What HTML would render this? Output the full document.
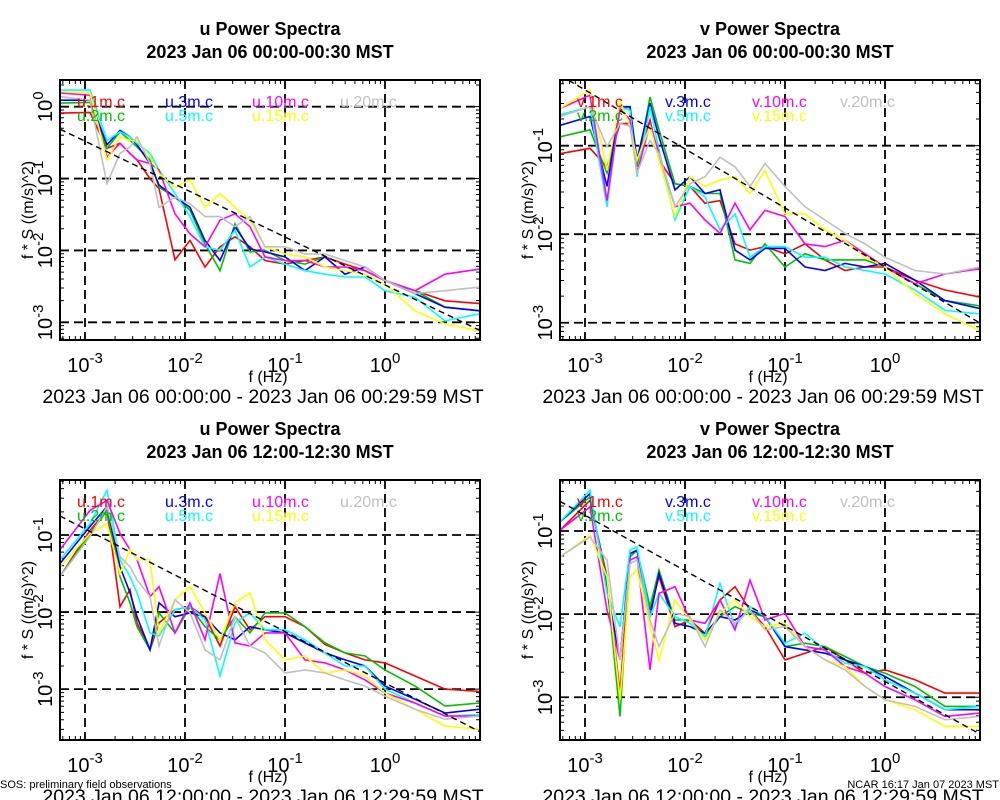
<!DOCTYPE html>
<html><head><meta charset="utf-8"><style>
html,body{margin:0;padding:0;background:#fff;}
svg{display:block;font-family:"Liberation Sans",sans-serif;}
</style></head><body>
<svg id="chart" width="1000" height="800" viewBox="0 0 1000 800"></svg>
<script>
// Shared frequency grid (log10 Hz)
const logFreq = [-3.25,-2.95,-2.78,-2.65,-2.55,-2.48,-2.35,-2.26,-2.1,-1.95,-1.8,-1.65,-1.5,-1.35,-1.2,-1.0,-0.8,-0.6,-0.4,-0.2,0,0.3,0.6,0.95];
const xTickLabels = ["-3","-2","-1","0"];
const seriesHeights = ["1m","2m","3m","5m","10m","15m","20m"];
const seriesColors = ["#ff0000","#00c000","#0000ff","#00ffff","#ff00ff","#ffff00","#c0c0c0"];
// Panel 1: u 00:00 (log10 f*S)
const u1_red    = [-0.09,-0.08,-0.58,-0.51,-0.65,-0.74,-1.0,-1.14,-2.13,-1.86,-2.23,-1.95,-1.81,-1.95,-2.14,-2.19,-2.14,-2.09,-2.19,-2.28,-2.42,-2.56,-2.70,-2.74];
const u1_green  = [0.05,0.06,-0.58,-0.35,-0.47,-0.56,-0.74,-1.12,-1.26,-1.44,-1.91,-2.28,-1.63,-2.02,-2.0,-2.14,-2.19,-2.09,-2.33,-2.23,-2.42,-2.56,-2.79,-2.84];
const u1_blue   = [0.09,0.09,-0.53,-0.33,-0.42,-0.53,-0.79,-1.09,-1.26,-1.40,-1.86,-2.14,-1.67,-1.98,-2.02,-2.09,-2.28,-2.09,-2.33,-2.23,-2.42,-2.60,-2.79,-2.84];
const u1_cyan   = [0.23,0.23,-0.47,-0.35,-0.42,-0.51,-0.65,-0.88,-1.21,-1.53,-1.95,-2.0,-1.72,-2.23,-2.09,-2.19,-2.28,-2.33,-2.37,-2.37,-2.56,-2.65,-2.98,-2.88];
const u1_mag    = [0.19,0.16,-0.7,-0.51,-0.65,-0.74,-0.79,-0.88,-1.49,-1.77,-1.95,-1.58,-1.49,-1.67,-2.09,-2.14,-2.14,-2.23,-2.23,-2.28,-2.42,-2.56,-2.33,-2.26];
const u1_yellow = [0.21,0.19,-0.74,-0.42,-0.47,-0.47,-0.7,-0.93,-1.12,-1.02,-1.4,-1.21,-1.4,-1.58,-1.95,-2.05,-2.09,-2.23,-2.28,-2.33,-2.47,-2.84,-3.02,-3.12];
const u1_gray   = [0.14,0.09,-1.07,-0.65,-0.56,-0.42,-0.79,-1.40,-1.26,-1.35,-1.53,-1.53,-1.67,-1.53,-1.95,-1.95,-2.05,-2.05,-2.14,-2.23,-2.42,-2.6,-2.56,-2.51];
// Panel 2: v 00:00
const v1_red    = [-1.09,-1.03,-1.24,-0.75,-0.75,-1.16,-0.71,-1.16,-1.43,-1.46,-1.65,-1.62,-2.11,-2.18,-2.14,-2.22,-2.11,-2.29,-2.41,-2.37,-2.37,-2.52,-2.63,-2.71];
const v1_green  = [-0.90,-0.82,-1.31,-0.60,-0.56,-1.24,-0.45,-0.82,-1.43,-1.46,-1.54,-1.54,-2.29,-2.33,-2.11,-2.37,-2.22,-2.29,-2.29,-2.29,-2.37,-2.56,-2.75,-2.81];
const v1_blue   = [-0.77,-0.67,-1.46,-0.56,-0.56,-1.16,-0.52,-0.9,-1.5,-1.35,-1.54,-1.5,-2.18,-2.29,-2.16,-2.16,-2.37,-2.41,-2.33,-2.37,-2.33,-2.52,-2.75,-2.84];
const v1_cyan   = [-0.65,-0.56,-1.69,-0.56,-0.6,-1.35,-0.56,-1.05,-1.84,-1.46,-1.58,-1.95,-1.77,-2.26,-2.14,-2.14,-2.26,-2.26,-2.37,-2.41,-2.45,-2.63,-2.86,-2.9];
const v1_mag    = [-0.58,-0.43,-1.62,-0.58,-0.71,-1.31,-0.75,-1.09,-1.69,-1.65,-1.84,-1.99,-1.65,-1.95,-1.73,-1.80,-2.11,-2.14,-2.07,-2.22,-2.37,-2.56,-2.45,-2.39];
const v1_yellow = [-0.58,-0.37,-1.28,-0.50,-0.78,-1.16,-0.78,-1.16,-1.80,-1.35,-1.46,-1.39,-1.35,-1.54,-1.28,-1.77,-1.77,-1.95,-2.07,-2.26,-2.37,-2.67,-2.90,-3.09];
const v1_gray   = [-0.67,-0.56,-1.01,-0.75,-0.78,-1.31,-0.94,-1.09,-1.69,-1.43,-1.35,-1.13,-1.24,-1.46,-1.20,-1.46,-1.69,-1.84,-1.99,-2.11,-2.26,-2.41,-2.45,-2.37];
// Panel 3: u 12:00
const u2_red    = [-1.54,-0.94,-0.68,-1.93,-1.71,-2.14,-2.49,-2.14,-1.97,-1.93,-2.06,-2.44,-1.93,-2.23,-2.06,-2.06,-2.19,-2.42,-2.53,-2.62,-2.66,-2.83,-3.0,-3.03];
const u2_green  = [-1.54,-0.98,-0.68,-1.54,-1.88,-2.19,-2.49,-2.01,-2.27,-1.93,-2.19,-2.36,-2.06,-2.27,-2.01,-2.01,-2.19,-2.40,-2.53,-2.57,-2.75,-2.96,-3.22,-3.18];
const u2_blue   = [-1.37,-0.89,-0.63,-1.41,-1.75,-2.06,-2.49,-1.88,-2.06,-2.01,-2.06,-2.27,-2.36,-2.19,-2.23,-2.27,-2.40,-2.53,-2.62,-2.70,-2.96,-3.13,-3.31,-3.26];
const u2_cyan   = [-1.32,-0.85,-0.42,-1.32,-1.54,-1.75,-2.27,-2.31,-1.97,-1.93,-2.10,-2.83,-2.14,-2.01,-2.23,-2.23,-2.36,-2.53,-2.70,-2.70,-3.0,-3.18,-3.35,-3.33];
const u2_mag    = [-1.19,-0.68,-0.55,-0.98,-1.19,-1.32,-1.80,-1.67,-2.27,-1.88,-2.36,-1.50,-2.40,-2.44,-2.27,-2.27,-2.62,-2.66,-2.75,-2.88,-3.05,-3.18,-3.35,-3.35];
const u2_yellow = [-1.41,-0.98,-0.85,-1.5,-1.19,-1.32,-1.32,-2.27,-1.84,-1.67,-2.01,-2.36,-1.88,-1.75,-2.36,-2.62,-2.57,-2.79,-2.75,-2.83,-3.05,-3.26,-3.48,-3.52];
const u2_gray   = [-1.54,-1.02,-0.63,-1.28,-1.41,-1.58,-1.80,-2.44,-1.84,-2.01,-2.49,-2.62,-2.06,-2.44,-2.53,-2.79,-2.75,-2.79,-2.88,-2.96,-3.09,-3.26,-3.39,-3.35];
// Panel 4: v 12:00
const v2_red    = [-0.99,-0.63,-1.55,-2.95,-1.31,-1.23,-1.95,-1.55,-2.15,-2.07,-2.23,-1.83,-1.67,-1.95,-2.15,-2.55,-2.47,-2.39,-2.55,-2.71,-2.67,-2.79,-2.95,-2.95];
const v2_green  = [-0.89,-0.59,-1.63,-3.23,-1.31,-1.23,-1.91,-1.47,-2.07,-2.07,-2.27,-2.03,-1.91,-1.99,-2.03,-2.39,-2.35,-2.39,-2.51,-2.63,-2.71,-2.87,-3.11,-3.11];
const v2_blue   = [-0.89,-0.55,-1.71,-2.55,-1.27,-1.23,-2.03,-1.51,-2.11,-2.15,-2.23,-2.03,-2.07,-1.95,-2.03,-2.39,-2.43,-2.47,-2.55,-2.63,-2.75,-2.95,-3.15,-3.15];
const v2_cyan   = [-0.89,-0.51,-1.75,-2.15,-1.23,-1.19,-2.03,-1.75,-2.03,-2.11,-2.27,-1.63,-2.15,-1.91,-2.03,-2.35,-2.23,-2.43,-2.59,-2.63,-2.79,-2.95,-3.15,-3.11];
const v2_mag    = [-0.99,-0.71,-1.95,-2.55,-1.35,-1.31,-2.67,-1.75,-1.67,-2.07,-2.11,-1.83,-2.19,-1.59,-2.07,-1.99,-2.39,-2.43,-2.63,-2.71,-2.87,-3.03,-3.23,-3.19];
const v2_yellow = [-1.31,-1.05,-1.55,-3.03,-1.55,-1.47,-2.15,-2.55,-1.83,-2.07,-2.31,-1.99,-1.83,-2.03,-2.15,-2.11,-2.39,-2.55,-2.63,-2.87,-3.03,-3.15,-3.35,-3.35];
const v2_gray   = [-1.31,-1.07,-1.35,-2.55,-1.39,-1.35,-2.07,-2.39,-1.99,-2.03,-2.39,-1.95,-2.11,-1.95,-2.19,-2.15,-2.39,-2.55,-2.67,-2.87,-3.03,-3.11,-3.27,-3.23];
// Reference -2/3 line intercepts (log10 value at f=1 Hz)
const refIntercepts = [-2.48,-2.37,-2.92,-2.81];

const NS="http://www.w3.org/2000/svg";
const svg=document.getElementById('chart');
function mk(tag,attrs,parent){const e=document.createElementNS(NS,tag);for(const k in attrs)e.setAttribute(k,attrs[k]);(parent||svg).appendChild(e);return e;}

const panels=[
 {comp:"u",x0:60,x1:480,y0:80,y1:340,ymax:0.371,ymin:-3.246,decs:[0,-1,-2,-3],title:"2023 Jan 06 00:00-00:30 MST",range:"2023 Jan 06 00:00:00 - 2023 Jan 06 00:29:59 MST",ty:0,
  data:[u1_red,u1_green,u1_blue,u1_cyan,u1_mag,u1_yellow,u1_gray]},
 {comp:"v",x0:560,x1:980,y0:80,y1:340,ymax:-0.258,ymin:-3.195,decs:[-1,-2,-3],title:"2023 Jan 06 00:00-00:30 MST",range:"2023 Jan 06 00:00:00 - 2023 Jan 06 00:29:59 MST",ty:0,
  data:[v1_red,v1_green,v1_blue,v1_cyan,v1_mag,v1_yellow,v1_gray]},
 {comp:"u",x0:60,x1:480,y0:480,y1:740,ymax:-0.286,ymin:-3.66,decs:[-1,-2,-3],title:"2023 Jan 06 12:00-12:30 MST",range:"2023 Jan 06 12:00:00 - 2023 Jan 06 12:29:59 MST",ty:400,
  data:[u2_red,u2_green,u2_blue,u2_cyan,u2_mag,u2_yellow,u2_gray]},
 {comp:"v",x0:560,x1:980,y0:480,y1:740,ymax:-0.386,ymin:-3.514,decs:[-1,-2,-3],title:"2023 Jan 06 12:00-12:30 MST",range:"2023 Jan 06 12:00:00 - 2023 Jan 06 12:29:59 MST",ty:400,
  data:[v2_red,v2_green,v2_blue,v2_cyan,v2_mag,v2_yellow,v2_gray]}
];
const FMIN=-3.25,FMAX=0.95;

panels.forEach((p,pi)=>{
  const g=mk('g',{});
  
  
  const X=v=>p.x0+(v-FMIN)/(FMAX-FMIN)*(p.x1-p.x0);
  const Y=v=>p.y0+(p.ymax-v)/(p.ymax-p.ymin)*(p.y1-p.y0);
  const cx=(p.x0+p.x1)/2;
  let t=mk('text',{x:cx,y:p.ty+35,'text-anchor':'middle','font-size':18,'font-weight':'bold'},g);
  t.textContent=p.comp+" Power Spectra";
  
  
  t=mk('text',{x:cx,y:p.ty+58,'text-anchor':'middle','font-size':18,'font-weight':'bold'},g);
  t.textContent=p.title;
  
  
  const cid='clip'+pi;
  const cp=mk('clipPath',{id:cid},g); mk('rect',{x:p.x0,y:p.y0,width:p.x1-p.x0,height:p.y1-p.y0},cp);
  for(let d=-3;d<=0;d++){const l=mk('line',{x1:X(d),x2:X(d),y1:p.y0,y2:p.y1,stroke:'#000','stroke-width':1.8,'stroke-dasharray':'9,5'},g);
    
    }
  p.decs.forEach(d=>{const l=mk('line',{x1:p.x0,x2:p.x1,y1:Y(d),y2:Y(d),stroke:'#000','stroke-width':1.8,'stroke-dasharray':'9,5'},g);
    
    });
  let tk='';
  for(let d=-4;d<=1;d++)for(let m=1;m<10;m++){const v=d+Math.log10(m);
    if(v>FMIN&&v<FMAX){const x=X(v),L=m==1?8:4;tk+=`M${x},${p.y0}v${L}M${x},${p.y1}v${-L}`;}
    if(v>p.ymin&&v<p.ymax){const y=Y(v),L=m==1?8:4;tk+=`M${p.x0},${y}h${L}M${p.x1},${y}h${-L}`;}}
  const tp=mk('path',{d:tk,stroke:'#000','stroke-width':1,fill:'none'},g);
  
  
  const sg=mk('g',{'clip-path':`url(#${cid})`},g);
  p.data.forEach((arr,si)=>{
    const d=arr.map((v,i)=>(i?'L':'M')+X(logFreq[i]).toFixed(1)+','+Y(v).toFixed(1)).join('');
    const pl=mk('path',{d:d,stroke:seriesColors[si],'stroke-width':1.6,fill:'none'},sg);
    
    
  });
  const b=refIntercepts[pi];
  const rl=mk('line',{x1:X(FMIN),y1:Y(b-2/3*FMIN),x2:X(FMAX),y2:Y(b-2/3*FMAX),stroke:'#000','stroke-width':1.4,'stroke-dasharray':'6,4'},sg);
  
  
  const fr=mk('rect',{x:p.x0,y:p.y0,width:p.x1-p.x0,height:p.y1-p.y0,fill:'none',stroke:'#000','stroke-width':2},g);
  
  
  const lx=[p.x0+17,p.x0+105,p.x0+192,p.x0+280];
  const order=[[0,2,4,6],[1,3,5]];
  order.forEach((row,ri)=>row.forEach((si,ci)=>{
    const lt=mk('text',{x:lx[ci],y:p.y0+27+ri*14,'font-size':16,fill:seriesColors[si]},g);
    lt.textContent=p.comp+"."+seriesHeights[si]+".c";
    
    
  }));
  xTickLabels.forEach((s,i)=>{
    const tx=mk('text',{x:X(-3+i),y:p.y1+32,'text-anchor':'middle','font-size':20},g);
    tx.innerHTML=`10<tspan dy="-9" font-size="15">${s}</tspan>`;
    
    
  });
  p.decs.forEach(d=>{
    const ty=mk('text',{x:0,y:0,'text-anchor':'middle','font-size':20,transform:`translate(${p.x0-8},${Y(d)}) rotate(-90)`},g);
    ty.innerHTML=`10<tspan dy="-9" font-size="15">${d}</tspan>`;
    
    
  });
  const ya=mk('text',{x:0,y:0,'text-anchor':'middle','font-size':16,transform:`translate(${p.x0-27},${(p.y0+p.y1)/2}) rotate(-90)`},g);
  ya.textContent="f * S ((m/s)^2)";
  
  
  const xa=mk('text',{x:cx-2,y:p.y1+42,'text-anchor':'middle','font-size':16},g);
  xa.textContent="f (Hz)";
  
  
  const rg=mk('text',{x:cx-7,y:p.y1+63,'text-anchor':'middle','font-size':19.5},g);
  rg.textContent=p.range;
  
  
});
let ft=mk('text',{x:0,y:788,'font-size':11});
ft.textContent="SOS: preliminary field observations";


ft=mk('text',{x:999,y:788,'font-size':11,'text-anchor':'end'});
ft.textContent="NCAR 16:17 Jan 07 2023 MST";


</script>
</body></html>
